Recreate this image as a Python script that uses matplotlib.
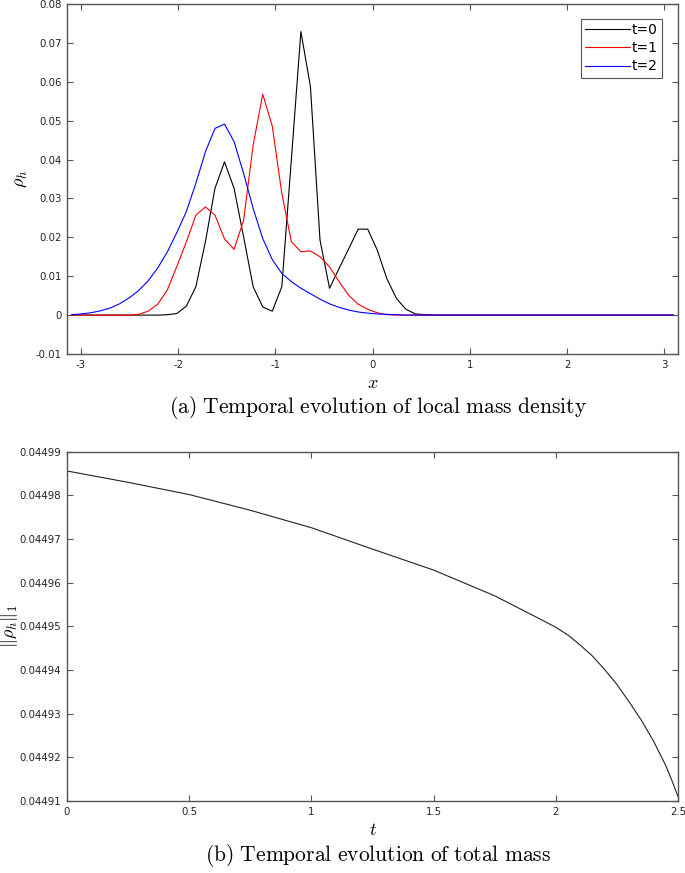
"""Temporal evolution of local mass density and total mass"""
import numpy as np
import matplotlib
matplotlib.use("Agg")
import matplotlib.pyplot as plt
from matplotlib.ticker import FixedLocator, FormatStrFormatter

plt.rcParams['mathtext.fontset'] = 'cm'
plt.rcParams['axes.unicode_minus'] = False
plt.rcParams['font.family'] = ['DejaVu Sans']

# grid of 64 cell centres on [-pi, pi)
n_cells = 64
h = 2 * np.pi / n_cells
x = -np.pi + (np.arange(n_cells) + 0.5) * h

rho_t0 = [0, 0, 0, 0, 0, 0, 0, 0, 0, 0,
          0.0001, 0.0004, 0.0023, 0.0073, 0.0189, 0.0326, 0.0394, 0.0326, 0.0201, 0.0073,
          0.0021, 0.0010, 0.0073, 0.0400, 0.0729, 0.0587, 0.0193, 0.0069, 0.0120, 0.0170,
          0.0221, 0.0221, 0.0167, 0.0094, 0.0043, 0.0015, 0.0003, 0.0001, 0, 0,
          0, 0, 0, 0, 0, 0, 0, 0, 0, 0,
          0, 0, 0, 0, 0, 0, 0, 0, 0, 0,
          0, 0, 0, 0]
rho_t1 = [0, 0, 0, 0, 0, 0, 0, 0.0002, 0.0010, 0.0028,
          0.0064, 0.0125, 0.0188, 0.0257, 0.0278, 0.0257, 0.0196, 0.0169, 0.0244, 0.0437,
          0.0568, 0.0486, 0.0313, 0.0189, 0.0163, 0.0165, 0.0150, 0.0124, 0.0086, 0.0051,
          0.0028, 0.0015, 0.0006, 0.0001, 0, 0, 0, 0, 0, 0,
          0, 0, 0, 0, 0, 0, 0, 0, 0, 0,
          0, 0, 0, 0, 0, 0, 0, 0, 0, 0,
          0, 0, 0, 0]
rho_t2 = [0.0001, 0.0003, 0.0006, 0.0011, 0.0018, 0.0029, 0.0044, 0.0063, 0.0088, 0.0121,
          0.0162, 0.0212, 0.0266, 0.0339, 0.0420, 0.0480, 0.0491, 0.0446, 0.0364, 0.0274,
          0.0197, 0.0143, 0.0107, 0.0086, 0.0069, 0.0055, 0.0041, 0.0029, 0.0020, 0.0013,
          0.0008, 0.0005, 0.0003, 0.0002, 0.0001, 0, 0, 0, 0, 0,
          0, 0, 0, 0, 0, 0, 0, 0, 0, 0,
          0, 0, 0, 0, 0, 0, 0, 0, 0, 0,
          0, 0, 0, 0]

t = [0, 0.25, 0.5, 0.75, 1.0, 1.25, 1.5, 1.75, 1.9, 2.0, 2.05, 2.1, 2.15, 2.2,
     2.25, 2.3, 2.35, 2.4, 2.45, 2.475, 2.5]
mass = [0.0449856, 0.0449830, 0.0449802, 0.0449766, 0.0449726, 0.0449677, 0.0449629,
        0.0449570, 0.0449527, 0.0449498, 0.0449480, 0.0449457, 0.0449432, 0.0449401,
        0.0449367, 0.0449327, 0.0449285, 0.0449237, 0.0449181, 0.0449147, 0.0449110]

spine_col = '#555555'


def style_axes(ax):
    for s in ax.spines.values():
        s.set_color(spine_col)
        s.set_linewidth(1.0)
    ax.tick_params(direction='in', top=True, right=True, length=4, width=0.8,
                   color=spine_col, labelsize=7.3, pad=4, labelcolor='#222222')


fig = plt.figure(figsize=(6.85, 8.73), dpi=100)

# (a) local mass density
ax1 = fig.add_axes([0.0978, 0.5945, 0.892, 0.401])
ax1.plot(x, rho_t0, color='black', lw=0.8, label='t=0')
ax1.plot(x, rho_t1, color='red', lw=0.8, label='t=1')
ax1.plot(x, rho_t2, color='blue', lw=0.8, label='t=2')
ax1.set_xlim(-np.pi, np.pi)
ax1.set_ylim(-0.01, 0.08)
ax1.set_xticks([-3, -2, -1, 0, 1, 2, 3])
ax1.set_yticks(np.arange(-0.01, 0.081, 0.01))
ax1.set_yticklabels(['-0.01', '0', '0.01', '0.02', '0.03', '0.04', '0.05', '0.06', '0.07', '0.08'])
style_axes(ax1)
ax1.set_xlabel(r'$x$', fontsize=13)
ax1.xaxis.set_label_coords(0.5, -0.057)
ax1.set_ylabel(r'$\rho_h$', fontsize=13)
ax1.yaxis.set_label_coords(-0.062, 0.5)
leg = ax1.legend(loc='upper right', fontsize=10, fancybox=False, framealpha=1,
                 edgecolor=spine_col, handlelength=3.2, handletextpad=0.15,
                 borderpad=0.3, labelspacing=0.3, bbox_to_anchor=(0.985, 0.977))
leg.get_frame().set_linewidth(0.8)

fig.text(0.552, 0.533, r'$\mathrm{(a)\ Temporal\ evolution\ of\ local\ mass\ density}$',
         ha='center', va='center', fontsize=15.5)

# (b) total mass
ax2 = fig.add_axes([0.0978, 0.0825, 0.892, 0.400])
ax2.plot(t, mass, color='#222222', lw=0.8)
ax2.set_xlim(0, 2.5)
ax2.set_ylim(0.04491, 0.04499)
ax2.set_xticks([0, 0.5, 1, 1.5, 2, 2.5])
ax2.xaxis.set_major_formatter(FormatStrFormatter('%g'))
yt = [0.04491, 0.04492, 0.04493, 0.04494, 0.04495, 0.04496, 0.04497, 0.04498, 0.04499]
ax2.yaxis.set_major_locator(FixedLocator(yt))
ax2.set_yticklabels(['%.5f' % v for v in yt])
style_axes(ax2)
ax2.set_xlabel(r'$t$', fontsize=13)
ax2.xaxis.set_label_coords(0.5, -0.057)
ax2.set_ylabel(r'$\|\rho_h\|_1$', fontsize=13)
ax2.yaxis.set_label_coords(-0.077, 0.5)

fig.text(0.552, 0.0195, r'$\mathrm{(b)\ Temporal\ evolution\ of\ total\ mass}$',
         ha='center', va='center', fontsize=15.5)

plt.savefig('out.png', dpi=100)
